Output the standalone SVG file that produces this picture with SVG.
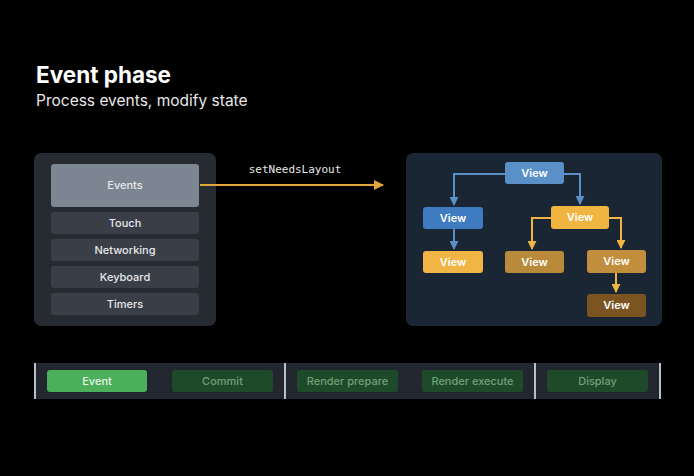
<svg xmlns="http://www.w3.org/2000/svg" width="694" height="476" viewBox="0 0 694 476">
<defs>
<style>
text{font-family:Inter,"Liberation Sans",sans-serif;text-anchor:middle;}
.item{fill:#3a3f47;}
.itxt{fill:#e6e8ea;font-size:11px;font-weight:500;}
.vt{fill:#ffffff;font-size:11px;font-weight:600;}
.bl{stroke:#5b8fc8;stroke-width:2;fill:none;}
.yl{stroke:#f0b545;stroke-width:2;fill:none;}
.btn{fill:#1f4a2a;}
.btxt{fill:#6fa079;font-size:11px;font-weight:500;}
.div{stroke:#b8c0c8;stroke-width:2;}
</style>
<marker id="ab" viewBox="0 0 10 10" refX="9" refY="5" markerWidth="4.5" markerHeight="4.5" orient="auto"><path d="M0,0L10,5L0,10z" fill="#5b8fc8"/></marker>
<marker id="ay" viewBox="0 0 10 10" refX="9" refY="5" markerWidth="4.5" markerHeight="4.5" orient="auto"><path d="M0,0L10,5L0,10z" fill="#f0b545"/></marker>
<marker id="ao" viewBox="0 0 10 10" refX="9" refY="5" markerWidth="5" markerHeight="5" orient="auto"><path d="M0,0L10,5L0,10z" fill="#e0a83a"/></marker>
</defs>
<rect width="694" height="476" fill="#000"/>
<text x="36" y="83" style="text-anchor:start;font-size:22.5px;font-weight:bold;fill:#fff">Event phase</text>
<text x="36" y="106" style="text-anchor:start;font-size:15.5px;fill:#e8e8e8">Process events, modify state</text>

<g id="sources">
<rect x="34" y="153" width="182" height="173" rx="7" fill="#262a31"/>
<g id="events"><rect x="51" y="164" width="148" height="43" rx="3" fill="#7b8692"/><text class="itxt" x="125" y="189">Events</text></g>
<g id="touch"><rect class="item" x="51" y="212" width="148" height="22" rx="3"/><text class="itxt" x="125" y="227">Touch</text></g>
<g id="networking"><rect class="item" x="51" y="239" width="148" height="22" rx="3"/><text class="itxt" x="125" y="254">Networking</text></g>
<g id="keyboard"><rect class="item" x="51" y="266" width="148" height="22" rx="3"/><text class="itxt" x="125" y="281">Keyboard</text></g>
<g id="timers"><rect class="item" x="51" y="293" width="148" height="22" rx="3"/><text class="itxt" x="125" y="308">Timers</text></g>
</g>

<g id="tree">
<rect x="406" y="153" width="256" height="173" rx="7" fill="#1b2634"/>
<g id="v0"><rect x="505" y="162" width="59" height="22" rx="3" fill="#5a90c8"/><text class="vt" x="534.5" y="177">View</text></g>
<g id="v1"><rect x="423" y="207" width="60" height="22" rx="3" fill="#3f7bc0"/><text class="vt" x="453" y="222">View</text></g>
<g id="v2"><rect x="423" y="251" width="60" height="22" rx="3" fill="#f0b545"/><text class="vt" x="453" y="266">View</text></g>
<g id="v3"><rect x="551" y="206" width="58" height="23" rx="3" fill="#f0b540"/><text class="vt" x="580" y="221">View</text></g>
<g id="v4"><rect x="505" y="251" width="59" height="22" rx="3" fill="#b98a3a"/><text class="vt" x="534.5" y="266">View</text></g>
<g id="v5"><rect x="587" y="250" width="59" height="23" rx="3" fill="#c08e3c"/><text class="vt" x="616.5" y="265">View</text></g>
<g id="v6"><rect x="587" y="294" width="59" height="23" rx="3" fill="#7a5521"/><text class="vt" x="616.5" y="309">View</text></g>
</g>

<g id="connectors">
<path d="M200 185H383" stroke="#e0a83a" stroke-width="2" fill="none" marker-end="url(#ao)"/>
<text x="295" y="173" style="font-family:'DejaVu Sans Mono','Liberation Mono',monospace;font-size:11px;fill:#e8e8e8">setNeedsLayout</text>
<path class="bl" d="M505 174H454V205" marker-end="url(#ab)"/>
<path class="bl" d="M564 174H580V204" marker-end="url(#ab)"/>
<path class="bl" d="M454 229V249" marker-end="url(#ab)"/>
<path class="yl" d="M551 218H532V249" marker-end="url(#ay)"/>
<path class="yl" d="M609 218H621V248" marker-end="url(#ay)"/>
<path class="yl" d="M616 273V292" marker-end="url(#ay)"/>
</g>

<g id="pipeline">
<rect x="34" y="363" width="627" height="36" fill="#22272f"/>
<line class="div" x1="35" y1="363" x2="35" y2="399"/>
<line class="div" x1="285" y1="363" x2="285" y2="399"/>
<line class="div" x1="535" y1="363" x2="535" y2="399"/>
<line class="div" x1="660" y1="363" x2="660" y2="399"/>
<g id="p-event"><rect x="47" y="370" width="100" height="22" rx="3" fill="#4caf5a"/><text x="97" y="385" style="font-size:11px;font-weight:500;fill:#e8f4ea">Event</text></g>
<g id="p-commit"><rect class="btn" x="172" y="370" width="101" height="22" rx="3"/><text class="btxt" x="222.5" y="385">Commit</text></g>
<g id="p-prepare"><rect class="btn" x="297" y="370" width="101" height="22" rx="3"/><text class="btxt" x="347.5" y="385">Render prepare</text></g>
<g id="p-execute"><rect class="btn" x="422" y="370" width="101" height="22" rx="3"/><text class="btxt" x="472.5" y="385">Render execute</text></g>
<g id="p-display"><rect class="btn" x="547" y="370" width="101" height="22" rx="3"/><text class="btxt" x="597.5" y="385">Display</text></g>
</g>
</svg>
